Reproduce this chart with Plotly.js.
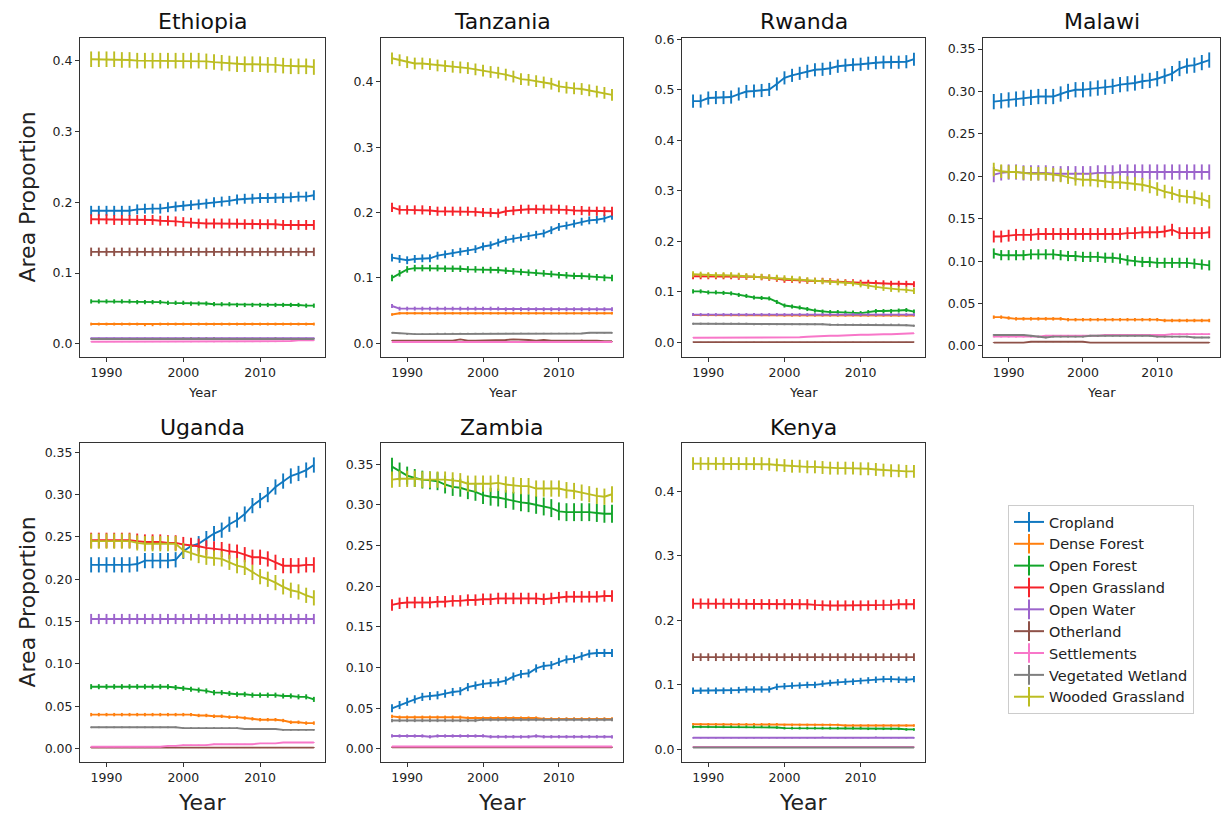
<!DOCTYPE html>
<html><head><meta charset="utf-8">
<script src="https://cdn.plot.ly/plotly-3.0.1.min.js"></script>
<style>html,body{margin:0;padding:0;background:#fff}#chart{width:1223px;height:814px}</style>
</head><body><div id="chart"></div>
<script>
const years = [1988,1989,1990,1991,1992,1993,1994,1995,1996,1997,1998,1999,2000,2001,2002,2003,2004,2005,2006,2007,2008,2009,2010,2011,2012,2013,2014,2015,2016,2017];
const seriesNames = ['Cropland','Dense Forest','Open Forest','Open Grassland','Open Water','Otherland','Settlements','Vegetated Wetland','Wooded Grassland'];
const seriesColors = ['#1178c0','#ff7f0e','#12a52a','#f5222a','#9c64cc','#8e5148','#f877c9','#7f7f7f','#bcbd22'];
const countryNames = ['Ethiopia','Tanzania','Rwanda','Malawi','Uganda','Zambia','Kenya'];
const xTicks = [1990,2000,2010];

// series order: Cropland, Dense Forest, Open Forest, Open Grassland, Open Water, Otherland, Settlements, Vegetated Wetland, Wooded Grassland
const ethiopia = [
 [0.188,0.188,0.188,0.188,0.188,0.188,0.190,0.191,0.191,0.191,0.193,0.194,0.195,0.196,0.197,0.198,0.200,0.201,0.202,0.204,0.205,0.205,0.206,0.206,0.206,0.206,0.207,0.208,0.208,0.210],
 [0.028,0.028,0.028,0.028,0.028,0.028,0.028,0.027,0.027,0.028,0.028,0.028,0.028,0.028,0.028,0.028,0.028,0.028,0.028,0.028,0.028,0.028,0.028,0.028,0.028,0.028,0.028,0.028,0.028,0.028],
 [0.060,0.060,0.060,0.060,0.060,0.060,0.059,0.059,0.059,0.059,0.058,0.058,0.058,0.057,0.057,0.057,0.056,0.056,0.056,0.055,0.055,0.055,0.055,0.055,0.055,0.055,0.055,0.055,0.054,0.054],
 [0.176,0.176,0.176,0.175,0.175,0.175,0.175,0.175,0.175,0.174,0.174,0.173,0.172,0.171,0.170,0.170,0.170,0.170,0.170,0.170,0.169,0.169,0.169,0.169,0.169,0.168,0.168,0.168,0.168,0.168],
 [0.008,0.008,0.008,0.008,0.008,0.008,0.008,0.008,0.008,0.008,0.008,0.008,0.008,0.008,0.008,0.008,0.008,0.008,0.008,0.008,0.008,0.008,0.008,0.008,0.008,0.008,0.008,0.008,0.008,0.008],
 [0.130,0.130,0.130,0.130,0.130,0.130,0.130,0.130,0.130,0.130,0.130,0.130,0.130,0.130,0.130,0.130,0.130,0.130,0.130,0.130,0.130,0.130,0.130,0.130,0.130,0.130,0.130,0.130,0.130,0.130],
 [0.003,0.003,0.003,0.003,0.003,0.003,0.003,0.003,0.003,0.003,0.003,0.003,0.003,0.003,0.003,0.003,0.003,0.003,0.003,0.003,0.003,0.003,0.003,0.003,0.003,0.004,0.004,0.005,0.005,0.005],
 [0.007,0.007,0.007,0.007,0.007,0.007,0.007,0.007,0.007,0.007,0.007,0.007,0.008,0.008,0.008,0.008,0.008,0.007,0.007,0.007,0.007,0.007,0.007,0.007,0.008,0.007,0.007,0.007,0.007,0.007],
 [0.402,0.402,0.402,0.402,0.401,0.401,0.400,0.400,0.400,0.400,0.400,0.400,0.400,0.400,0.400,0.399,0.398,0.397,0.396,0.395,0.395,0.395,0.395,0.394,0.394,0.393,0.392,0.392,0.392,0.391]
];
const ethiopiaErr = [0.007,0.002,0.003,0.007,0.001,0.006,0.0005,0.001,0.011];

const tanzania = [
 [0.131,0.129,0.127,0.129,0.130,0.130,0.134,0.136,0.138,0.140,0.141,0.144,0.148,0.150,0.154,0.158,0.160,0.162,0.164,0.166,0.168,0.173,0.178,0.180,0.183,0.186,0.188,0.189,0.191,0.195],
 [0.044,0.046,0.046,0.046,0.046,0.046,0.046,0.046,0.046,0.046,0.046,0.046,0.046,0.046,0.046,0.046,0.046,0.046,0.046,0.046,0.046,0.046,0.046,0.046,0.046,0.046,0.046,0.046,0.046,0.046],
 [0.100,0.107,0.113,0.115,0.115,0.115,0.115,0.114,0.114,0.114,0.113,0.113,0.112,0.112,0.112,0.111,0.110,0.109,0.108,0.108,0.107,0.106,0.104,0.104,0.103,0.103,0.102,0.101,0.100,0.100],
 [0.208,0.204,0.204,0.204,0.204,0.203,0.202,0.202,0.202,0.202,0.202,0.201,0.200,0.200,0.199,0.202,0.203,0.205,0.205,0.205,0.205,0.205,0.205,0.204,0.203,0.203,0.202,0.202,0.202,0.202],
 [0.057,0.053,0.053,0.053,0.053,0.053,0.053,0.053,0.053,0.053,0.053,0.053,0.053,0.053,0.053,0.052,0.052,0.052,0.052,0.052,0.052,0.052,0.052,0.052,0.052,0.052,0.052,0.052,0.052,0.052],
 [0.004,0.004,0.004,0.004,0.004,0.004,0.004,0.004,0.004,0.006,0.004,0.004,0.004,0.004,0.004,0.005,0.006,0.006,0.005,0.004,0.005,0.004,0.004,0.004,0.004,0.005,0.004,0.004,0.003,0.003],
 [0.002,0.002,0.002,0.002,0.002,0.002,0.002,0.002,0.002,0.002,0.002,0.002,0.002,0.002,0.002,0.002,0.002,0.002,0.002,0.002,0.002,0.002,0.002,0.002,0.002,0.002,0.002,0.002,0.002,0.002],
 [0.016,0.015,0.014,0.014,0.014,0.014,0.015,0.015,0.015,0.015,0.015,0.015,0.015,0.015,0.015,0.015,0.015,0.015,0.015,0.015,0.015,0.015,0.015,0.015,0.015,0.015,0.016,0.016,0.016,0.016],
 [0.436,0.433,0.430,0.428,0.428,0.427,0.425,0.424,0.423,0.422,0.421,0.419,0.417,0.415,0.414,0.411,0.408,0.404,0.403,0.401,0.399,0.397,0.393,0.391,0.390,0.389,0.387,0.385,0.383,0.380]
];
const tanzaniaErr = [0.006,0.002,0.005,0.007,0.003,0.0005,0.0005,0.001,0.009];

const rwanda = [
 [0.478,0.478,0.484,0.485,0.485,0.486,0.492,0.497,0.498,0.499,0.501,0.512,0.524,0.529,0.533,0.537,0.540,0.541,0.543,0.547,0.549,0.550,0.551,0.553,0.554,0.555,0.555,0.555,0.556,0.561],
 [0.054,0.054,0.054,0.054,0.054,0.054,0.054,0.054,0.054,0.054,0.054,0.054,0.053,0.053,0.053,0.053,0.053,0.053,0.053,0.053,0.053,0.053,0.053,0.053,0.053,0.053,0.053,0.053,0.053,0.053],
 [0.101,0.101,0.099,0.099,0.098,0.097,0.094,0.092,0.089,0.088,0.087,0.080,0.073,0.071,0.069,0.066,0.063,0.061,0.060,0.060,0.059,0.059,0.058,0.060,0.062,0.062,0.062,0.063,0.064,0.061],
 [0.131,0.131,0.131,0.131,0.131,0.131,0.130,0.130,0.130,0.129,0.128,0.126,0.124,0.124,0.123,0.122,0.122,0.122,0.121,0.120,0.119,0.119,0.118,0.118,0.117,0.117,0.116,0.116,0.116,0.115],
 [0.055,0.055,0.055,0.055,0.055,0.055,0.055,0.055,0.055,0.055,0.055,0.055,0.055,0.055,0.055,0.055,0.055,0.055,0.055,0.055,0.055,0.055,0.055,0.055,0.055,0.055,0.055,0.055,0.055,0.055],
 [0.0005,0.0005,0.0005,0.0005,0.0005,0.0005,0.0005,0.0005,0.0005,0.0005,0.0005,0.0005,0.0005,0.0005,0.0005,0.0005,0.0005,0.0005,0.0005,0.0005,0.0005,0.0005,0.0005,0.0005,0.0005,0.0005,0.0005,0.0005,0.0005,0.0005],
 [0.009,0.009,0.009,0.009,0.009,0.009,0.009,0.009,0.009,0.009,0.010,0.010,0.010,0.010,0.010,0.011,0.012,0.012,0.013,0.013,0.014,0.014,0.015,0.015,0.016,0.016,0.016,0.017,0.017,0.018],
 [0.037,0.037,0.037,0.037,0.037,0.037,0.037,0.037,0.036,0.036,0.036,0.036,0.036,0.036,0.036,0.036,0.036,0.036,0.035,0.035,0.035,0.035,0.035,0.035,0.035,0.035,0.035,0.035,0.034,0.033],
 [0.135,0.134,0.133,0.133,0.133,0.133,0.132,0.131,0.130,0.130,0.129,0.128,0.127,0.126,0.125,0.123,0.122,0.121,0.120,0.119,0.118,0.117,0.115,0.112,0.110,0.108,0.106,0.105,0.104,0.102]
];
const rwandaErr = [0.013,0.002,0.004,0.006,0.003,0.0005,0.0005,0.002,0.006];

const malawi = [
 [0.288,0.289,0.290,0.291,0.292,0.293,0.294,0.294,0.294,0.297,0.300,0.302,0.302,0.303,0.304,0.305,0.306,0.308,0.309,0.310,0.312,0.313,0.315,0.318,0.321,0.327,0.330,0.331,0.334,0.337],
 [0.034,0.034,0.033,0.032,0.032,0.032,0.032,0.032,0.032,0.032,0.031,0.031,0.031,0.031,0.031,0.031,0.031,0.031,0.031,0.031,0.031,0.031,0.031,0.030,0.030,0.030,0.030,0.030,0.030,0.030],
 [0.109,0.107,0.107,0.107,0.107,0.108,0.108,0.108,0.108,0.107,0.106,0.106,0.105,0.105,0.105,0.104,0.104,0.103,0.101,0.100,0.099,0.099,0.098,0.098,0.098,0.098,0.098,0.097,0.096,0.095],
 [0.129,0.129,0.130,0.131,0.131,0.131,0.132,0.132,0.132,0.132,0.132,0.132,0.132,0.132,0.132,0.132,0.132,0.132,0.133,0.133,0.134,0.134,0.134,0.135,0.137,0.133,0.133,0.133,0.133,0.134],
 [0.202,0.204,0.205,0.205,0.204,0.204,0.204,0.204,0.203,0.203,0.203,0.203,0.203,0.203,0.204,0.204,0.204,0.205,0.205,0.205,0.205,0.205,0.205,0.205,0.205,0.205,0.205,0.205,0.205,0.205],
 [0.004,0.004,0.004,0.004,0.004,0.005,0.005,0.005,0.005,0.005,0.005,0.005,0.005,0.004,0.004,0.004,0.004,0.004,0.004,0.004,0.004,0.004,0.004,0.004,0.004,0.004,0.004,0.004,0.004,0.004],
 [0.011,0.011,0.011,0.011,0.011,0.011,0.011,0.012,0.012,0.012,0.012,0.012,0.012,0.012,0.012,0.013,0.013,0.013,0.013,0.013,0.013,0.013,0.013,0.013,0.014,0.014,0.014,0.014,0.014,0.014],
 [0.013,0.013,0.013,0.013,0.013,0.012,0.011,0.010,0.011,0.011,0.011,0.011,0.011,0.012,0.012,0.012,0.012,0.012,0.012,0.012,0.012,0.012,0.011,0.011,0.011,0.011,0.011,0.010,0.010,0.010],
 [0.208,0.206,0.205,0.205,0.204,0.203,0.203,0.203,0.202,0.201,0.199,0.197,0.196,0.196,0.195,0.194,0.193,0.193,0.192,0.191,0.190,0.188,0.185,0.182,0.180,0.177,0.176,0.175,0.173,0.170]
];
const malawiErr = [0.009,0.002,0.006,0.007,0.009,0.0005,0.001,0.001,0.008];

const uganda = [
 [0.217,0.217,0.217,0.217,0.217,0.217,0.218,0.222,0.222,0.222,0.222,0.223,0.233,0.239,0.242,0.248,0.254,0.258,0.265,0.270,0.277,0.287,0.293,0.300,0.309,0.316,0.322,0.325,0.329,0.335],
 [0.040,0.040,0.040,0.040,0.040,0.040,0.040,0.040,0.040,0.040,0.040,0.040,0.040,0.040,0.039,0.039,0.038,0.038,0.037,0.037,0.036,0.035,0.034,0.034,0.034,0.033,0.031,0.031,0.030,0.030],
 [0.073,0.073,0.073,0.073,0.073,0.073,0.073,0.073,0.073,0.073,0.073,0.072,0.071,0.070,0.069,0.068,0.066,0.066,0.065,0.064,0.064,0.063,0.063,0.063,0.063,0.062,0.062,0.061,0.061,0.058],
 [0.246,0.246,0.246,0.246,0.246,0.246,0.245,0.244,0.244,0.244,0.243,0.243,0.241,0.240,0.239,0.237,0.236,0.235,0.233,0.232,0.229,0.226,0.226,0.224,0.220,0.216,0.216,0.216,0.217,0.217],
 [0.153,0.153,0.153,0.153,0.153,0.153,0.153,0.153,0.153,0.153,0.153,0.153,0.153,0.153,0.153,0.153,0.153,0.153,0.153,0.153,0.153,0.153,0.153,0.153,0.153,0.153,0.153,0.153,0.153,0.153],
 [0.001,0.001,0.001,0.001,0.001,0.001,0.001,0.001,0.001,0.001,0.001,0.001,0.001,0.001,0.001,0.001,0.001,0.001,0.001,0.001,0.001,0.001,0.001,0.001,0.001,0.001,0.001,0.001,0.001,0.001],
 [0.002,0.002,0.002,0.002,0.002,0.002,0.002,0.002,0.002,0.002,0.003,0.003,0.004,0.004,0.004,0.004,0.005,0.005,0.005,0.005,0.005,0.005,0.006,0.006,0.006,0.007,0.007,0.007,0.007,0.007],
 [0.025,0.025,0.025,0.025,0.025,0.025,0.025,0.025,0.025,0.025,0.025,0.025,0.024,0.024,0.024,0.024,0.024,0.024,0.024,0.024,0.023,0.023,0.023,0.023,0.023,0.022,0.022,0.022,0.022,0.022],
 [0.245,0.245,0.245,0.245,0.245,0.245,0.243,0.242,0.242,0.242,0.242,0.242,0.234,0.231,0.228,0.226,0.225,0.224,0.220,0.216,0.214,0.208,0.203,0.200,0.196,0.191,0.187,0.185,0.181,0.178]
];
const ugandaErr = [0.009,0.002,0.003,0.009,0.006,0.0005,0.0005,0.001,0.009];

const zambia = [
 [0.050,0.054,0.058,0.061,0.064,0.065,0.066,0.068,0.070,0.071,0.076,0.078,0.080,0.081,0.082,0.084,0.089,0.092,0.093,0.099,0.102,0.103,0.107,0.110,0.111,0.114,0.117,0.118,0.118,0.118],
 [0.040,0.039,0.039,0.039,0.039,0.039,0.039,0.039,0.039,0.039,0.038,0.038,0.038,0.038,0.038,0.038,0.038,0.038,0.038,0.038,0.037,0.037,0.037,0.037,0.037,0.037,0.037,0.037,0.037,0.037],
 [0.347,0.341,0.336,0.333,0.331,0.330,0.329,0.325,0.322,0.321,0.318,0.316,0.312,0.310,0.309,0.307,0.305,0.303,0.302,0.300,0.298,0.296,0.292,0.291,0.291,0.291,0.291,0.290,0.289,0.289],
 [0.177,0.179,0.180,0.180,0.180,0.180,0.181,0.181,0.182,0.182,0.183,0.183,0.184,0.184,0.185,0.185,0.185,0.185,0.185,0.185,0.184,0.185,0.186,0.187,0.187,0.187,0.187,0.187,0.188,0.188],
 [0.016,0.016,0.016,0.016,0.016,0.015,0.016,0.016,0.016,0.016,0.016,0.016,0.016,0.015,0.015,0.015,0.015,0.015,0.015,0.016,0.015,0.015,0.015,0.015,0.015,0.015,0.015,0.015,0.015,0.015],
 [0.002,0.002,0.002,0.002,0.002,0.002,0.002,0.002,0.002,0.002,0.002,0.002,0.002,0.002,0.002,0.002,0.002,0.002,0.002,0.002,0.002,0.002,0.002,0.002,0.002,0.002,0.002,0.002,0.002,0.002],
 [0.003,0.003,0.003,0.003,0.003,0.003,0.003,0.003,0.003,0.003,0.003,0.003,0.003,0.003,0.003,0.003,0.003,0.003,0.003,0.003,0.003,0.003,0.003,0.003,0.003,0.003,0.003,0.003,0.003,0.003],
 [0.035,0.035,0.035,0.035,0.035,0.035,0.035,0.035,0.035,0.035,0.035,0.035,0.036,0.036,0.036,0.036,0.036,0.036,0.036,0.036,0.036,0.036,0.036,0.036,0.036,0.036,0.036,0.036,0.036,0.036],
 [0.331,0.332,0.332,0.332,0.331,0.331,0.331,0.331,0.330,0.329,0.326,0.326,0.326,0.326,0.327,0.325,0.324,0.323,0.323,0.320,0.320,0.320,0.320,0.318,0.317,0.315,0.313,0.311,0.310,0.313]
];
const zambiaErr = [0.005,0.002,0.011,0.007,0.002,0.0005,0.0005,0.002,0.010];

const kenya = [
 [0.091,0.091,0.091,0.091,0.091,0.091,0.092,0.093,0.093,0.093,0.093,0.097,0.098,0.099,0.099,0.100,0.100,0.102,0.103,0.104,0.105,0.105,0.106,0.107,0.108,0.109,0.109,0.108,0.108,0.109],
 [0.039,0.039,0.039,0.039,0.039,0.039,0.039,0.039,0.039,0.039,0.039,0.039,0.038,0.038,0.038,0.038,0.038,0.038,0.038,0.038,0.037,0.037,0.037,0.037,0.037,0.037,0.037,0.037,0.037,0.037],
 [0.035,0.035,0.035,0.035,0.035,0.035,0.035,0.035,0.035,0.035,0.035,0.034,0.033,0.033,0.033,0.033,0.033,0.033,0.033,0.033,0.033,0.033,0.033,0.032,0.032,0.032,0.032,0.032,0.031,0.031],
 [0.226,0.226,0.226,0.226,0.226,0.226,0.226,0.225,0.225,0.225,0.225,0.225,0.225,0.225,0.225,0.225,0.224,0.223,0.223,0.223,0.223,0.223,0.223,0.223,0.224,0.224,0.224,0.225,0.225,0.225],
 [0.018,0.018,0.018,0.018,0.018,0.018,0.018,0.018,0.018,0.018,0.018,0.018,0.018,0.018,0.018,0.018,0.018,0.019,0.018,0.018,0.018,0.018,0.018,0.018,0.019,0.018,0.018,0.018,0.018,0.018],
 [0.143,0.143,0.143,0.143,0.143,0.143,0.143,0.143,0.143,0.143,0.143,0.143,0.143,0.143,0.143,0.143,0.143,0.143,0.143,0.143,0.143,0.143,0.143,0.143,0.143,0.143,0.143,0.143,0.143,0.143],
 [0.004,0.004,0.004,0.004,0.004,0.004,0.004,0.004,0.004,0.004,0.004,0.004,0.004,0.004,0.004,0.004,0.004,0.004,0.004,0.004,0.004,0.004,0.004,0.004,0.004,0.004,0.004,0.004,0.004,0.004],
 [0.003,0.003,0.003,0.003,0.003,0.003,0.003,0.003,0.003,0.003,0.003,0.003,0.003,0.003,0.003,0.003,0.003,0.003,0.003,0.003,0.003,0.003,0.003,0.003,0.003,0.003,0.003,0.003,0.003,0.003],
 [0.443,0.443,0.443,0.443,0.443,0.443,0.443,0.443,0.443,0.443,0.442,0.441,0.440,0.439,0.439,0.438,0.438,0.437,0.436,0.436,0.436,0.436,0.435,0.435,0.434,0.433,0.432,0.432,0.431,0.431]
];
const kenyaErr = [0.005,0.002,0.002,0.008,0.001,0.006,0.0005,0.0005,0.010];

const yRanges = [[-0.0185,0.432],[-0.021,0.467],[-0.029,0.603],[-0.013,0.363],[-0.016,0.361],[-0.016,0.376],[-0.0195,0.475]];
const yDtick = [0.1,0.1,0.1,0.05,0.05,0.05,0.1];
const yFormat = ['.1f','.1f','.1f','.2f','.2f','.2f','.1f'];

const countryData = [ethiopia,tanzania,rwanda,malawi,uganda,zambia,kenya];
const countryErr = [ethiopiaErr,tanzaniaErr,rwandaErr,malawiErr,ugandaErr,zambiaErr,kenyaErr];

// layout geometry (pixels)
const W = 1223, H = 814;
const colPx = [[80,325],[381,623],[682,925],[983,1220]];
const rowPx = [[38,357],[443,762]];
const cells = [[0,0],[0,1],[0,2],[0,3],[1,0],[1,1],[1,2]];

const FONT = 'DejaVu Sans, Liberation Sans, sans-serif';
const traces = [];
const layout = {
  width: W, height: H,
  margin: {l:0, r:0, t:0, b:0},
  paper_bgcolor: '#ffffff', plot_bgcolor: '#ffffff',
  font: {family: FONT, color: '#222', size: 12},
  showlegend: true,
  legend: {x: 1008/W, y: 1-505/H, xanchor: 'left', yanchor: 'top',
    bordercolor: '#cccccc', borderwidth: 1, bgcolor: '#ffffff',
    font: {family: FONT, size: 14.5, color: '#222'}, tracegroupgap: 0},
  annotations: []
};

countryNames.forEach((name, i) => {
  const [r, c] = cells[i];
  const sfx = i === 0 ? '' : String(i + 1);
  const xd = [colPx[c][0]/W, colPx[c][1]/W];
  const yd = [1 - rowPx[r][1]/H, 1 - rowPx[r][0]/H];
  const axBase = {showline: true, mirror: true, linecolor: '#333', linewidth: 1,
    ticks: 'outside', ticklen: 4, tickwidth: 1, tickcolor: '#333',
    showgrid: false, zeroline: false, tickfont: {size: 12.5, family: FONT, color: '#222'}};
  layout['xaxis' + sfx] = Object.assign({}, axBase, {domain: xd, anchor: 'y' + sfx,
    range: [1986.55, 2018.45], tickvals: xTicks, ticktext: xTicks.map(String)});
  layout['yaxis' + sfx] = Object.assign({}, axBase, {domain: yd, anchor: 'x' + sfx,
    range: yRanges[i], tick0: 0, dtick: yDtick[i], tickformat: yFormat[i]});
  const cx = (colPx[c][0] + colPx[c][1]) / 2 / W;
  layout.annotations.push({text: name, xref: 'paper', yref: 'paper', x: cx,
    y: r === 0 ? 1 - 22/H : 1 - 427/H, xanchor: 'center', yanchor: 'middle',
    showarrow: false, font: {size: 22, family: FONT, color: '#111'}});
  layout.annotations.push({text: 'Year', xref: 'paper', yref: 'paper', x: cx,
    y: r === 0 ? 1 - 392/H : 1 - 802/H, xanchor: 'center', yanchor: 'middle',
    showarrow: false, font: {size: r === 0 ? 13 : 22, family: FONT, color: '#222'}});
  if (c === 0) {
    layout.annotations.push({text: 'Area Proportion', xref: 'paper', yref: 'paper',
      x: 27/W, y: 1 - (rowPx[r][0] + rowPx[r][1]) / 2 / H, textangle: -90,
      xanchor: 'center', yanchor: 'middle', showarrow: false,
      font: {size: 22, family: FONT, color: '#222'}});
  }
  countryData[i].forEach((vals, s) => {
    traces.push({
      type: 'scatter', mode: 'lines', x: years, y: vals,
      xaxis: 'x' + sfx, yaxis: 'y' + sfx, name: seriesNames[s], showlegend: false,
      line: {color: seriesColors[s], width: 1.9},
      error_y: {type: 'data', array: years.map(() => countryErr[i][s]), visible: true,
        color: seriesColors[s], thickness: 1.9, width: 0},
      hoverinfo: 'x+y+name'
    });
  });
});

// legend entries (line with vertical errorbar glyph)
seriesNames.forEach((n, s) => {
  traces.push({type: 'scatter', mode: 'lines+markers', x: [null], y: [null],
    xaxis: 'x', yaxis: 'y', name: n, showlegend: true,
    line: {color: seriesColors[s], width: 2},
    marker: {symbol: 'line-ns-open', size: 14, color: seriesColors[s], line: {color: seriesColors[s], width: 2}}});
});

Plotly.newPlot('chart', traces, layout, {displayModeBar: false, staticPlot: true});
</script></body></html>
